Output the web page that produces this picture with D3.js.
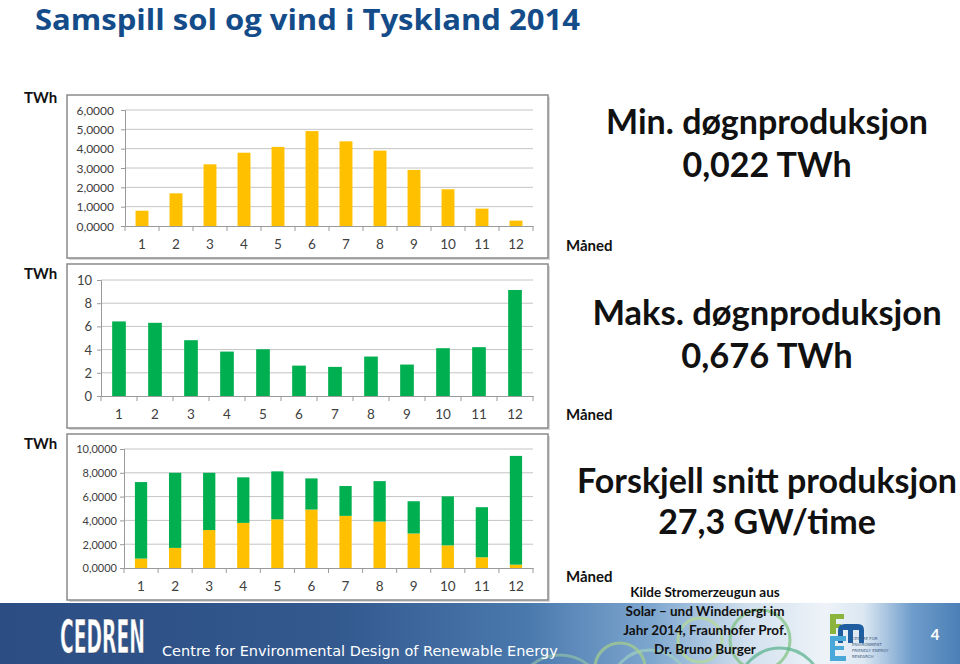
<!DOCTYPE html>
<html>
<head>
<meta charset="utf-8">
<title>Samspill sol og vind i Tyskland 2014</title>
<script src="https://d3js.org/d3.v7.min.js"></script>
<style>
    body { margin: 0; background: #fff; }
    svg { display: block; }
    .tick text { font-family: Lato, "Open Sans", sans-serif; fill: #404040; }
    .lbl { font-family: Lato, "Open Sans", sans-serif; font-weight: bold; fill: #111; }
</style>
</head>
<body>
<div id="chart"></div>
<script>
    // months on the x axis
    const months = ["1", "2", "3", "4", "5", "6", "7", "8", "9", "10", "11", "12"];
    // solar production per month (TWh)
    const solar = [0.79, 1.69, 3.19, 3.79, 4.09, 4.91, 4.38, 3.90, 2.90, 1.90, 0.90, 0.28];
    // wind production per month (TWh)
    const wind = [6.43, 6.31, 4.81, 3.83, 4.03, 2.62, 2.51, 3.40, 2.71, 4.12, 4.21, 9.14];
    // y tick values for the three panels
    const ticksSolar = [0, 1, 2, 3, 4, 5, 6];
    const ticksWind = [0, 2, 4, 6, 8, 10];
    const ticksSum = [0, 2, 4, 6, 8, 10];
    // side notes
    const notes = [
        ["Min. døgnproduksjon", "0,022 TWh"],
        ["Maks. døgnproduksjon", "0,676 TWh"],
        ["Forskjell snitt produksjon", "27,3 GW/time"]
    ];
    const source = ["Kilde Stromerzeugun aus", "Solar – und Windenergi im", "Jahr 2014, Fraunhofer Prof.", "Dr. Bruno Burger"];

    const W = 960, H = 664;
    const SOLAR = "#FFC000", WIND = "#00B050";
    const no = d3.formatLocale({ decimal: ",", thousands: " ", grouping: [3], currency: ["", " kr"] });

    const svg = d3.select("#chart").append("svg")
        .attr("width", W).attr("height", H);

    const defs = svg.append("defs");
    const grad = defs.append("linearGradient").attr("id", "foot").attr("x1", 0).attr("x2", 1).attr("y1", 0).attr("y2", 0);
    [[0, "#2b4d83"], [0.35, "#33598f"], [0.55, "#4a79ae"], [0.68, "#7ea7cf"], [0.78, "#d2e1ef"], [0.86, "#eef3f8"], [0.9, "#dbe7f2"], [0.95, "#6f9dcb"], [1, "#4b7fb6"]]
        .forEach(s => grad.append("stop").attr("offset", s[0]).attr("stop-color", s[1]));

    // title
    svg.append("text").attr("x", 35).attr("y", 30)
        .attr("font-family", "'Open Sans', Lato, sans-serif").attr("font-weight", "bold")
        .attr("font-size", 28).attr("fill", "#144c8a")
        .attr("textLength", 545).attr("lengthAdjust", "spacingAndGlyphs")
        .text("Samspill sol og vind i Tyskland 2014");

    function drawPanel(cfg) {
        const g = svg.append("g");
        // frame with a soft shadow
        g.append("rect").attr("x", cfg.frame[0] + 2).attr("y", cfg.frame[1] + 2)
            .attr("width", cfg.frame[2] - cfg.frame[0]).attr("height", cfg.frame[3] - cfg.frame[1])
            .attr("fill", "#d8d8d8");
        g.append("rect").attr("x", cfg.frame[0]).attr("y", cfg.frame[1])
            .attr("width", cfg.frame[2] - cfg.frame[0]).attr("height", cfg.frame[3] - cfg.frame[1])
            .attr("fill", "#fff").attr("stroke", "#8a8a8a").attr("stroke-width", 1.5);

        const x = d3.scaleBand().domain(months).range([cfg.left, 533]).padding(0);
        const y = d3.scaleLinear().domain([0, cfg.max]).range([cfg.bottom, cfg.top]);

        // gridlines
        g.selectAll(".grid").data(cfg.ticks.slice(1)).enter().append("line")
            .attr("x1", cfg.left).attr("x2", 533)
            .attr("y1", d => y(d)).attr("y2", d => y(d))
            .attr("stroke", "#c4c4c4").attr("stroke-width", 1);

        // bars
        const stack = d3.stack().keys(d3.range(cfg.series.length))
            .value((d, k) => cfg.series[k][d])(d3.range(months.length));
        stack.forEach((layer, k) => {
            g.selectAll(null).data(layer).enter().append("rect")
                .attr("x", (d, i) => x(months[i]) + x.bandwidth() * cfg.gap)
                .attr("width", x.bandwidth() * (1 - 2 * cfg.gap))
                .attr("y", d => y(d[1]))
                .attr("height", d => y(d[0]) - y(d[1]))
                .attr("fill", cfg.colors[k]);
        });

        // y axis
        const ya = g.append("g").attr("transform", "translate(" + cfg.left + ",0)")
            .call(d3.axisLeft(y).tickValues(cfg.ticks).tickFormat(cfg.fmt).tickSize(4).tickPadding(cfg.pad));
        ya.selectAll("line,path").attr("stroke", "#9a9a9a");
        ya.selectAll("text").attr("dy", "0.35em").style("font-size", cfg.yFont + "px");

        // x axis with ticks on category boundaries
        const xa = g.append("g").attr("transform", "translate(0," + cfg.bottom + ")")
            .call(d3.axisBottom(x).tickSize(0).tickPadding(13));
        xa.select(".domain").attr("stroke", "#9a9a9a");
        xa.selectAll("text").style("font-size", "13.5px");
        g.selectAll(".xb").data(months.concat(["end"])).enter().append("line")
            .attr("x1", (d, i) => i < months.length ? x(d) : x.range()[1])
            .attr("x2", (d, i) => i < months.length ? x(d) : x.range()[1])
            .attr("y1", cfg.bottom).attr("y2", cfg.bottom + 5)
            .attr("stroke", "#9a9a9a");

        svg.append("text").attr("class", "lbl").attr("x", 24).attr("y", cfg.twhY)
            .attr("font-size", 15).text("TWh");
        svg.append("text").attr("class", "lbl").attr("x", 566).attr("y", cfg.manedY)
            .attr("font-size", 15).text("Måned");
    }

    drawPanel({
        frame: [67, 95, 548, 258], left: 125, top: 110, bottom: 226, max: 6,
        ticks: ticksSolar, fmt: no.format(".4f"), series: [solar], colors: [SOLAR], gap: 0.31,
        twhY: 103, manedY: 251, yFont: 12, pad: 7
    });
    drawPanel({
        frame: [67, 264, 548, 428], left: 101, top: 280, bottom: 396, max: 10,
        ticks: ticksWind, fmt: no.format("d"), series: [wind], colors: [WIND], gap: 0.31,
        twhY: 279, manedY: 420, yFont: 13, pad: 5
    });
    drawPanel({
        frame: [67, 434, 548, 600], left: 124, top: 449, bottom: 568, max: 10,
        ticks: ticksSum, fmt: no.format(".4f"), series: [solar, wind], colors: [SOLAR, WIND], gap: 0.32,
        twhY: 449, manedY: 582, yFont: 11, pad: 3
    });

    // side notes
    const noteY = [[134, 177], [325, 368], [493, 534]];
    const noteSize = [34, 34.5, 34];
    notes.forEach((n, i) => {
        n.forEach((line, j) => {
            svg.append("text").attr("class", "lbl").attr("x", 767).attr("y", noteY[i][j])
                .attr("text-anchor", "middle").attr("font-size", noteSize[i])
                .text(line);
        });
    });

    // footer band
    const foot = svg.append("g");
    foot.append("rect").attr("x", 0).attr("y", 603).attr("width", W).attr("height", H - 603)
        .attr("fill", "url(#foot)");
    // decorative rings
    [[650, 690, 40, "#9fd0c0"], [700, 640, 22, "#b8dc90"], [760, 640, 30, "#7cc07a"], [780, 690, 42, "#56b08a"], [560, 700, 45, "#8ebfa8"], [620, 668, 25, "#a6d08a"]]
        .forEach(c => foot.append("circle").attr("cx", c[0]).attr("cy", c[1]).attr("r", c[2])
            .attr("fill", "none").attr("stroke", c[3]).attr("stroke-width", 3).attr("opacity", 0.7));

    // CEDREN logo
    foot.append("text").attr("x", 60).attr("y", 653)
        .attr("transform", "translate(60,653) scale(0.8,1.75) translate(-60,-653)")
        .attr("font-family", "'DejaVu Sans Condensed', 'DejaVu Sans', sans-serif").attr("font-weight", "bold")
        .attr("font-size", 26).attr("fill", "#fff").attr("stroke", "#1c3358").attr("stroke-width", 0.3)
        .attr("textLength", 106).attr("lengthAdjust", "spacingAndGlyphs")
        .text("CEDREN");
    foot.append("text").attr("x", 162).attr("y", 656)
        .attr("font-family", "'DejaVu Sans', Verdana, sans-serif").attr("font-size", 14.5)
        .attr("fill", "#fff").text("Centre for Environmental Design of Renewable Energy");

    // source text
    source.forEach((line, i) => {
        svg.append("text").attr("class", "lbl").attr("x", 705).attr("y", 597 + i * 19)
            .attr("text-anchor", "middle").attr("font-size", 13.5).text(line);
    });

    // FME logo
    const fme = foot.append("g");
    fme.append("rect").attr("x", 830).attr("y", 614).attr("width", 6).attr("height", 20).attr("fill", "#8ab43c");
    fme.append("rect").attr("x", 830).attr("y", 614).attr("width", 14).attr("height", 5).attr("fill", "#8ab43c");
    fme.append("rect").attr("x", 830).attr("y", 624).attr("width", 11).attr("height", 4).attr("fill", "#8ab43c");
    fme.append("path").attr("d", "M838,643 L838,630 Q838,624 845,624 L858,624 Q864,624 864,630 L864,643 L859,643 L859,630 L853,630 L853,643 L848,643 L848,630 L843,630 L843,643 Z")
        .attr("fill", "#1e5ea0");
    fme.append("path").attr("d", "M830,636 L846,636 L846,641 L835,641 L835,646 L844,646 L844,650 L835,650 L835,656 L846,656 L846,661 L830,661 Z")
        .attr("fill", "#4aa8d8");
    ["CENTRE FOR", "ENVIRONMENT", "FRIENDLY ENERGY", "RESEARCH"].forEach((t, i) => {
        fme.append("text").attr("x", 852).attr("y", 640 + i * 6)
            .attr("font-family", "'DejaVu Sans', sans-serif").attr("font-size", 4).attr("fill", "#3d5a80").text(t);
    });

    // page number
    foot.append("text").attr("x", 935).attr("y", 640).attr("text-anchor", "middle")
        .attr("font-family", "Lato, sans-serif").attr("font-weight", "bold").attr("font-size", 15)
        .attr("fill", "#fff").text("4");
</script>
</body>
</html>
